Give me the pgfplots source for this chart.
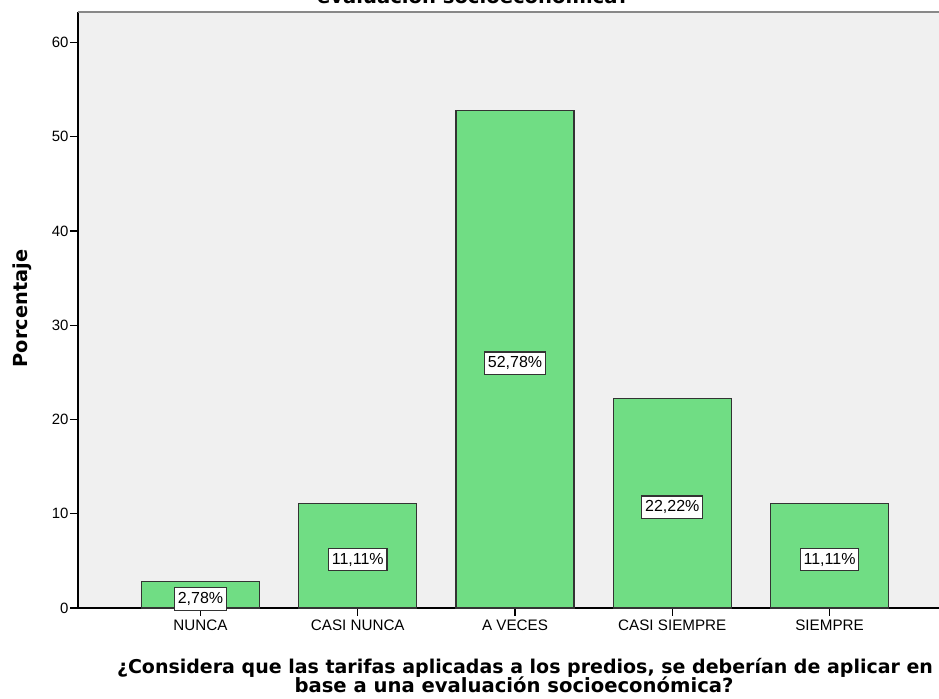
\documentclass[border=0pt]{standalone}
\usepackage{fontspec}
\setmainfont{Liberation Sans}
\newfontfamily\lblfont{DejaVu Sans}
\usepackage{pgfplots}
\pgfplotsset{compat=1.18}
\definecolor{barfill}{RGB}{112,221,132}
\definecolor{bgcol}{RGB}{240,240,240}
\definecolor{topline}{RGB}{136,136,136}
\begin{document}
\begin{tikzpicture}
\begin{axis}[
  scale only axis,
  width=645.75pt, height=447pt,
  xmin=-0.779, xmax=4.696,
  ymin=0, ymax=63.24,
  axis lines*=left,
  axis line style={-, black, line width=0.8pt},
  axis background/.style={fill=bgcol},
  tick align=outside,
  major tick length=6pt,
  tick style={black, line width=0.8pt},
  xtick={0,1,2,3,4},
  xticklabels={NUNCA,CASI NUNCA,A VECES,CASI SIEMPRE,SIEMPRE},
  ytick={0,10,20,30,40,50,60},
  yticklabel style={font=\fontsize{11.2}{13}\selectfont, inner sep=1pt},
  xticklabel style={font=\fontsize{11.4}{13}\selectfont, inner sep=3pt},
  /pgf/number format/assume math mode=true,
  clip=false,
]
\addplot[ybar, bar width=0.75, fill=barfill, draw=black!80, line width=0.9pt]
  coordinates {(0,2.78) (1,11.11) (2,52.78) (3,22.22) (4,11.11)};
\addplot[only marks, mark=none, point meta=explicit symbolic,
  nodes near coords,
  every node near coord/.append style={anchor=center, fill=white, draw=black!80,
    line width=0.9pt, inner xsep=2.5pt, inner ysep=3.5pt, font=\fontsize{12}{13}\selectfont, yshift=-3pt}]
  table[meta=lab] {
x y lab
0 1.39 2,78\%
1 5.555 11,11\%
2 26.39 52,78\%
3 11.11 22,22\%
4 5.555 11,11\%
};
\coordinate (O) at (rel axis cs:0,0);
\draw[topline, line width=1.5pt] (rel axis cs:0,1) -- (rel axis cs:1,1);
\end{axis}
\node[anchor=base, font=\lblfont\bfseries\fontsize{14.7}{16}\selectfont, inner sep=0pt]
  at ([shift={(296.25pt,453pt)}]O) {evaluación socioeconómica?};
\node[anchor=base, font=\lblfont\bfseries\fontsize{14.25}{16}\selectfont, inner sep=0pt]
  at ([shift={(335.25pt,-49.5pt)}]O) {¿Considera que las tarifas aplicadas a los predios, se deberían de aplicar en};
\node[anchor=base, font=\lblfont\bfseries\fontsize{14.7}{16}\selectfont, inner sep=0pt]
  at ([shift={(327pt,-63.75pt)}]O) {base a una evaluación socioeconómica?};
\node[anchor=center, rotate=90, font=\lblfont\bfseries\fontsize{14.5}{16}\selectfont, inner sep=0pt]
  at ([shift={(-42pt,224.6pt)}]O) {Porcentaje};
\pgfresetboundingbox
\path[use as bounding box] ([shift={(-58.5pt,-68.25pt)}]O) rectangle ++(704.25pt,524.25pt);
\end{tikzpicture}
\end{document}
